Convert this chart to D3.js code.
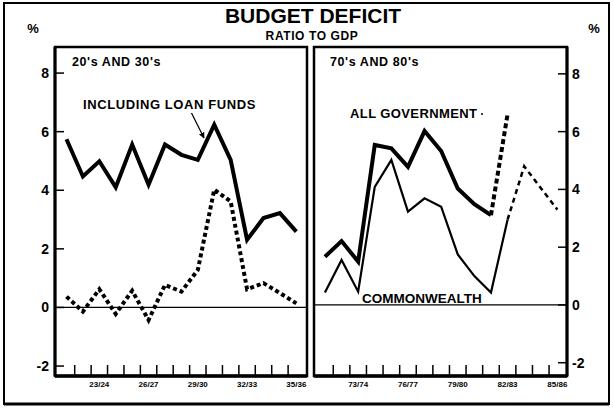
<!DOCTYPE html>
<head>
    <meta charset="utf-8">
    <script src='https://d3js.org/d3.v7.min.js'> </script>
    <style>
        body { margin: 0; background: #fff; }
        text { font-family: "Liberation Sans", Arial, sans-serif; font-weight: bold; fill: #000; }
    </style>
</head>

<body>
    <svg width="613" height="409"> </svg>

    <script>
        // data (per cent of GDP)
        const leftYears = ["21/22", "22/23", "23/24", "24/25", "25/26", "26/27", "27/28", "28/29",
            "29/30", "30/31", "31/32", "32/33", "33/34", "34/35", "35/36"]
        const leftLabels = ["23/24", "26/27", "29/30", "32/33", "35/36"]
        const loanFunds = [5.74, 4.47, 4.99, 4.10, 5.56, 4.19, 5.56, 5.21, 5.04, 6.24, 5.04, 2.31, 3.05, 3.22, 2.59]
        const commonwealth20s = [0.37, -0.14, 0.62, -0.22, 0.57, -0.43, 0.77, 0.54, 1.28, 4.02, 3.62, 0.62, 0.83, 0.49, 0.14]

        const rightYears = ["71/72", "72/73", "73/74", "74/75", "75/76", "76/77", "77/78", "78/79",
            "79/80", "80/81", "81/82", "82/83", "83/84", "84/85", "85/86"]
        const rightLabels = ["73/74", "76/77", "79/80", "82/83", "85/86"]
        const allGovernment = [1.67, 2.21, 1.50, 5.54, 5.42, 4.78, 6.02, 5.33, 4.03, 3.49, 3.11, 6.60]
        const allGovDashFrom = 10
        const commonwealth70s = [0.43, 1.56, 0.46, 4.09, 5.02, 3.23, 3.69, 3.40, 1.75, 1.00, 0.43, 2.95, 4.80, 4.05, 3.30]
        const commonwealthDashFrom = 11

        const yTicks = [-2, 0, 2, 4, 6, 8]

        let svg = d3.select("svg")

        // outer frame
        svg.append("rect")
            .attr("x", 4).attr("y", 3).attr("width", 605).attr("height", 401)
            .attr("fill", "none").attr("stroke", "black").attr("stroke-width", 2)
        svg.append("line")
            .attr("x1", 4).attr("x2", 609).attr("y1", 404).attr("y2", 404)
            .attr("stroke", "black").attr("stroke-width", 3)

        // titles
        svg.append("text").attr("x", 313).attr("y", 23).attr("text-anchor", "middle")
            .style("font-size", "21px").text("BUDGET DEFICIT")
        svg.append("text").attr("x", 312).attr("y", 39.5).attr("text-anchor", "middle")
            .style("font-size", "12px").style("letter-spacing", "0.6px").text("RATIO TO GDP")
        svg.append("text").attr("x", 33).attr("y", 33).attr("text-anchor", "middle")
            .style("font-size", "13px").text("%")
        svg.append("text").attr("x", 594).attr("y", 33).attr("text-anchor", "middle")
            .style("font-size", "13px").text("%")

        const panelTop = 47, panelBottom = 376

        // panels: left 20's and 30's, right 70's and 80's
        let xL = d3.scaleLinear().domain([-0.7, 14.65]).range([55, 307])
        let yL = d3.scaleLinear().domain([-2.34, 8.89]).range([panelBottom, panelTop])
        let xR = d3.scaleLinear().domain([-0.66, 14.58]).range([314, 567])
        let yR = d3.scaleLinear().domain([-2.46, 8.93]).range([panelBottom, panelTop])

        function drawPanel(x, y, years, labels, side) {
            let g = svg.append("g")
            let x0 = x.range()[0], x1 = x.range()[1]

            // zero line
            g.append("line")
                .attr("x1", x0).attr("x2", x1).attr("y1", y(0)).attr("y2", y(0))
                .attr("stroke", "black").attr("stroke-width", 1.2)

            // frame
            g.append("rect")
                .attr("x", x0).attr("y", panelTop).attr("width", x1 - x0).attr("height", panelBottom - panelTop)
                .attr("fill", "none").attr("stroke", "black").attr("stroke-width", 2.5)
            g.append("line")
                .attr("x1", x0).attr("x2", x1).attr("y1", panelBottom).attr("y2", panelBottom)
                .attr("stroke", "black").attr("stroke-width", 3.5)
            let axisX = side == "left" ? x0 : x1
            g.append("line")
                .attr("x1", axisX).attr("x2", axisX).attr("y1", panelTop).attr("y2", panelBottom)
                .attr("stroke", "black").attr("stroke-width", 3)

            // y ticks pointing into the panel
            let dir = side == "left" ? 1 : -1
            g.selectAll("line.ytick")
                .data(yTicks)
                .enter()
                .append("line")
                .attr("x1", axisX).attr("x2", axisX + dir * 9)
                .attr("y1", d => y(d)).attr("y2", d => y(d))
                .attr("stroke", "black").attr("stroke-width", 1.5)
            g.selectAll("text.ylab")
                .data(yTicks)
                .enter()
                .append("text")
                .attr("x", side == "left" ? axisX - 6 : axisX + 5)
                .attr("y", d => y(d) + 5)
                .attr("text-anchor", side == "left" ? "end" : "start")
                .style("font-size", "14px")
                .text(d => d < 0 ? "-" + Math.abs(d) : d)

            // year ticks between the points
            g.selectAll("line.xtick")
                .data(years.slice(0, years.length - 1))
                .enter()
                .append("line")
                .attr("x1", (d, i) => x(i + 0.5)).attr("x2", (d, i) => x(i + 0.5))
                .attr("y1", panelBottom).attr("y2", panelBottom - 11)
                .attr("stroke", "black").attr("stroke-width", 1.5)
            g.selectAll("text.xlab")
                .data(labels)
                .enter()
                .append("text")
                .attr("x", d => x(years.indexOf(d)))
                .attr("y", 387)
                .attr("text-anchor", "middle")
                .style("font-size", "8px")
                .text(d => d)
            return g
        }

        function pts(values, from, to) {
            return values.map((v, i) => ({ i: i, v: v })).slice(from, to)
        }

        function plot(x, y, data, width, dash) {
            let line = d3.line().x(d => x(d.i)).y(d => y(d.v))
            svg.append("path")
                .attr("d", line(data))
                .attr("fill", "none")
                .attr("stroke", "black")
                .attr("stroke-width", width)
                .attr("stroke-linejoin", "miter")
                .attr("stroke-dasharray", dash)
        }

        drawPanel(xL, yL, leftYears, leftLabels, "left")
        drawPanel(xR, yR, rightYears, rightLabels, "right")

        // left panel lines
        plot(xL, yL, pts(loanFunds, 0), 4, null)
        plot(xL, yL, pts(commonwealth20s, 0), 4, "4,3")

        // right panel lines
        plot(xR, yR, pts(allGovernment, 0, allGovDashFrom + 1), 4, null)
        plot(xR, yR, pts(allGovernment, allGovDashFrom), 4, "5,3")
        plot(xR, yR, pts(commonwealth70s, 0, commonwealthDashFrom + 1), 2.2, null)
        plot(xR, yR, pts(commonwealth70s, commonwealthDashFrom), 2.5, "5,4")

        // panel titles and labels
        svg.append("text").attr("x", 72).attr("y", 66)
            .style("font-size", "12.5px").style("letter-spacing", "0.6px").text("20's AND 30's")
        svg.append("text").attr("x", 330).attr("y", 66)
            .style("font-size", "12.5px").style("letter-spacing", "0.6px").text("70's AND 80's")
        svg.append("text").attr("x", 83).attr("y", 108.5)
            .style("font-size", "13px").style("letter-spacing", "0.6px").text("INCLUDING LOAN FUNDS")
        svg.append("text").attr("x", 350).attr("y", 117.5)
            .style("font-size", "13px").style("letter-spacing", "0.4px").text("ALL GOVERNMENT")
        svg.append("circle").attr("cx", 482).attr("cy", 114).attr("r", 1)
        svg.append("text").attr("x", 362).attr("y", 303)
            .style("font-size", "13.5px").text("COMMONWEALTH")

        // arrow pointing at the loan funds line
        svg.append("defs").append("marker")
            .attr("id", "head")
            .attr("viewBox", "0 0 10 10")
            .attr("refX", 9).attr("refY", 5)
            .attr("markerWidth", 5).attr("markerHeight", 5)
            .attr("orient", "auto")
            .append("path").attr("d", "M0,0L10,5L0,10z")
        svg.append("line")
            .attr("x1", 191.5).attr("y1", 113).attr("x2", 204).attr("y2", 138)
            .attr("stroke", "black").attr("stroke-width", 1.2)
            .attr("marker-end", "url(#head)")
    </script>

</body>
